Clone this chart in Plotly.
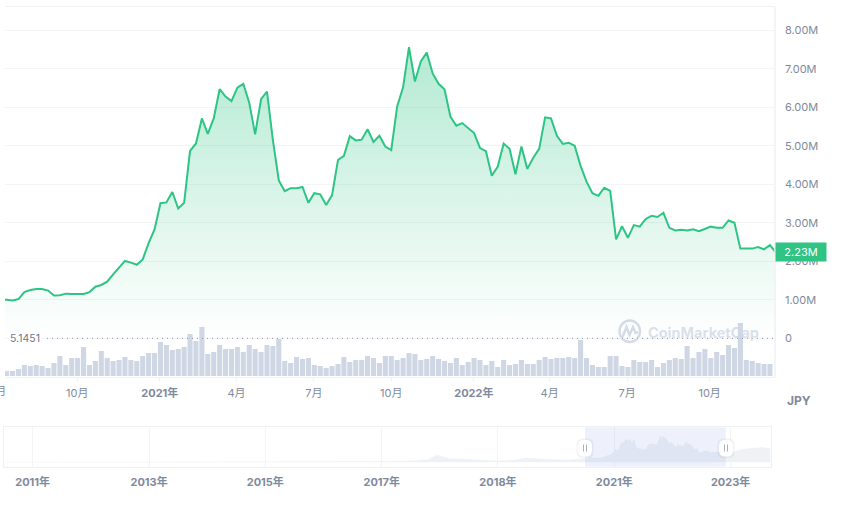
import pandas as pd
import plotly.graph_objects as go

W, H = 852, 509
GRAY = "#808A9D"
GRID = "#F3F4F7"
EDGE = "#EFF2F5"
GREEN = "#2DC484"
FONT = "Inter, 'Noto Sans CJK JP', sans-serif"

# Weekly-ish price in millions of JPY
price = [
    1.00, 1.00, 0.98, 1.02, 1.20, 1.255, 1.28, 1.28, 1.24, 1.11, 1.12, 1.16, 1.15, 1.15, 1.15, 1.20,
    1.34, 1.385, 1.47, 1.66, 1.84, 2.01, 1.965, 1.91, 2.05, 2.47, 2.83, 3.51, 3.53, 3.80, 3.37, 3.52,
    4.87, 5.06, 5.71, 5.31, 5.71, 6.47, 6.28, 6.16, 6.51, 6.61, 6.12, 5.30, 6.21, 6.41, 5.15, 4.10,
    3.82, 3.90, 3.90, 3.93, 3.52, 3.77, 3.74, 3.46, 3.72, 4.63, 4.74, 5.25, 5.14, 5.16, 5.43, 5.10,
    5.26, 4.98, 4.89, 6.02, 6.52, 7.56, 6.67, 7.19,
    7.42, 6.88, 6.61, 6.47, 5.76, 5.52, 5.59, 5.46, 5.33, 4.94, 4.86, 4.22, 4.46, 5.06, 4.92, 4.26,
    4.98, 4.40, 4.69, 4.92, 5.74, 5.71, 5.26, 5.05, 5.08, 5.00, 4.48, 4.07, 3.77, 3.70, 3.91, 3.83,
    2.57, 2.91, 2.61, 2.94, 2.90, 3.10, 3.18, 3.15, 3.26, 2.87, 2.80, 2.82, 2.80, 2.83, 2.78, 2.84,
    2.90, 2.87, 2.87, 3.06, 3.00, 2.33, 2.33, 2.33, 2.37, 2.31, 2.42, 2.23,
]
# Trading volume, arbitrary units (scale not shown in the reference)
volume = [
    1.5, 1.5, 2.1, 3.3, 3.0, 3.3, 3.0, 2.4, 3.9, 6.0, 3.3, 5.4, 5.4, 8.7, 3.3, 4.5, 7.5, 5.4, 4.5, 4.8,
    5.7, 4.8, 4.5, 6.0, 6.9, 6.9, 10.2, 9.3, 7.8, 8.1, 8.7, 12.6, 10.5, 14.7, 6.6, 7.2, 9.3, 8.1, 8.1, 8.7,
    7.2, 9.3, 8.1, 7.2, 9.3, 9.0, 11.1, 4.5, 3.9, 5.7, 5.1, 5.4, 3.3, 3.0, 2.4, 3.0, 3.6, 5.7, 4.2, 4.8,
    4.8, 6.0, 5.4, 3.9, 6.0, 6.0, 4.8, 5.4, 6.9, 6.6, 4.8,
    5.1, 6.0, 5.1, 4.5, 3.9, 5.4, 3.3, 4.2, 5.4, 4.8, 3.3, 4.5, 2.7, 4.8, 3.3, 3.6, 4.8, 3.6, 3.6, 4.8,
    5.7, 5.1, 5.4, 5.4, 5.7, 5.4, 10.8, 5.4, 3.3, 2.7, 2.7, 6.0, 6.0, 3.0, 2.7, 4.8, 4.2, 4.2, 4.8, 2.7,
    3.9, 4.8, 5.4, 5.1, 9.0, 5.4, 7.2, 8.1, 5.4, 7.2, 6.3, 9.3, 8.4, 15.9, 4.8, 4.5, 3.9, 3.6, 3.6,
]
dates = pd.date_range("2020-06-30", "2022-12-18", periods=len(price))

# Overview history outside the zoomed window
hist_dates = ["2010-07-05", "2013-10-01", "2013-12-01", "2015-01-01", "2016-01-01", "2016-12-01", "2017-03-01",
              "2017-05-15", "2017-08-15", "2017-10-15", "2017-12-15", "2018-01-20", "2018-03-01", "2018-05-01",
              "2018-08-01", "2018-11-01", "2019-01-01", "2019-04-01", "2019-07-01", "2019-10-01", "2020-01-01",
              "2020-03-15", "2020-06-15"]
hist_price = [0.0, 0.02, 0.1, 0.04, 0.05, 0.09, 0.13, 0.25, 0.5, 0.7, 2.05, 1.6, 1.0, 0.9, 0.75, 0.55, 0.35,
              0.55, 1.2, 0.95, 0.85, 0.65, 1.0]
recent_dates = ["2023-01-01", "2023-02-01", "2023-03-15", "2023-05-01", "2023-06-20", "2023-07-20", "2023-09-10"]
recent_price = [2.6, 3.1, 3.7, 3.9, 4.15, 4.2, 3.85]

month_ticks = ["2020-09-27", "2021-01-01", "2021-03-31", "2021-06-29", "2021-09-27", "2022-01-01", "2022-03-30",
               "2022-06-28", "2022-10-02"]
month_labels = ["10月", "<b>2021年</b>", "4月", "7月", "10月", "<b>2022年</b>", "4月", "7月", "10月"]
price_ticks = [0, 1, 2, 3, 4, 5, 6, 7, 8]
price_labels = ["0", "1.00M", "2.00M", "3.00M", "4.00M", "5.00M", "6.00M", "7.00M", "8.00M"]
year_ticks = ["2011-01-01", "2013-01-01", "2015-01-01", "2017-01-01", "2019-01-01", "2021-01-01", "2023-01-01"]
year_labels = ["2011年", "2013年", "2015年", "2017年", "2018年", "2021年", "2023年"]


def px(x):
    return x / W


def py(y):
    return 1 - y / H


overview_x = hist_dates + [d.strftime("%Y-%m-%d") for d in dates[2:-1]] + recent_dates
overview_y = hist_price + price[2:-1] + recent_price

fig = go.Figure()
fig.add_trace(go.Scatter(
    x=dates, y=price, mode="lines", yaxis="y", xaxis="x",
    line=dict(color=GREEN, width=2), fill="tozeroy",
    fillgradient=dict(type="vertical", colorscale=[[0, "rgba(45,196,132,0)"], [1, "rgba(45,196,132,0.36)"]]),
    hoverinfo="skip",
))
fig.add_trace(go.Bar(
    x=dates[1:-1], y=volume, yaxis="y2", xaxis="x",
    marker=dict(color="#CFD6E4", line_width=0), hoverinfo="skip",
))
fig.add_trace(go.Scatter(
    x=overview_x, y=overview_y, mode="lines", xaxis="x2", yaxis="y3",
    line=dict(color="#EFF2F5", width=0.5), fill="tozeroy", fillcolor="#EFF2F5", hoverinfo="skip",
))

axis_text = dict(family=FONT, size=11, color=GRAY)
fig.update_layout(
    width=W, height=H, margin=dict(l=0, r=0, t=0, b=0), autosize=False,
    paper_bgcolor="white", plot_bgcolor="white", showlegend=False, bargap=0.14,
    font=dict(family=FONT, color=GRAY),
    xaxis=dict(
        domain=[px(5), px(775)], range=["2020-07-05", "2022-12-17"], anchor="y", type="date",
        tickmode="array", tickvals=month_ticks, ticktext=month_labels, tickangle=0,
        showgrid=False, showline=True, linecolor=EDGE, linewidth=1, mirror=True,
        ticks="outside", ticklen=3, tickcolor=EDGE, tickfont=axis_text, ticklabelstandoff=3,
        zeroline=False,
    ),
    yaxis=dict(
        domain=[py(377), py(7)], range=[-1.005, 8.605], side="right", anchor="x",
        tickmode="array", tickvals=price_ticks, ticktext=price_labels, tickfont=axis_text,
        showgrid=True, gridcolor=GRID, gridwidth=1, zeroline=False, showline=False,
        ticks="", ticklabelstandoff=9,
    ),
    yaxis2=dict(overlaying="y", range=[-0.3, 110.7], visible=False, fixedrange=True),
    xaxis2=dict(
        domain=[px(4), px(770.7)], range=["2010-07-05", "2023-09-10"], anchor="y3", type="date",
        tickmode="array", tickvals=year_ticks, ticktext=[f"<b>{t}</b>" for t in year_labels], tickangle=0,
        tickfont=axis_text, ticks="", ticklabelstandoff=5,
        showgrid=True, gridcolor=GRID, gridwidth=1, showline=True, linecolor=EDGE, mirror=True, zeroline=False,
    ),
    yaxis3=dict(
        domain=[py(466.7), py(427.3)], range=[-1.28, 9.98], anchor="x2",
        showticklabels=False, showgrid=False, zeroline=False, showline=True, linecolor=EDGE, mirror=True, ticks="",
    ),
)

shapes = [
    # dotted reference line at the chart's open price
    dict(type="line", xref="paper", yref="y", x0=px(47), x1=px(775), y0=0, y1=0,
         line=dict(color="#8A93A6", width=1, dash="1px,4px"), layer="above"),
    # right edge of the main plot is heavier than the others
    dict(type="line", xref="paper", yref="paper", x0=px(775), x1=px(775), y0=py(377), y1=py(7),
         line=dict(color=EDGE, width=1.6), layer="above"),
    # watermark logo
    dict(type="circle", xref="paper", yref="paper", x0=px(619.5), x1=px(640), y0=py(342), y1=py(320.5),
         line=dict(color="#D5DCE8", width=2.4), layer="below"),
    dict(type="path", xref="paper", yref="paper", layer="below",
         path=f"M {px(622.5)} {py(337)} L {px(626.5)} {py(327)} L {px(629.5)} {py(335)} L {px(633)} {py(327)} "
              f"L {px(635.5)} {py(333)} L {px(638)} {py(332)}",
         line=dict(color="#D5DCE8", width=2.4), fillcolor="rgba(0,0,0,0)"),
    # selected window in the overview
    dict(type="rect", xref="paper", yref="paper", x0=px(585), x1=px(725.7), y0=py(466.7), y1=py(427.3),
         fillcolor="rgba(88,116,224,0.10)", line_width=0, layer="above"),
]
for cx in (585, 726):
    # soft halo and rounded white handle
    for pad, col in ((1.5, "rgba(128,138,157,0.10)"), (0, "white")):
        x0, x1, y0, y1, r = cx - 7 - pad, cx + 7 + pad, 440 - pad, 456.5 + pad, 6
        shapes.append(dict(
            type="path", xref="paper", yref="paper", layer="above", fillcolor=col, line_width=0,
            path=(f"M {px(x0 + r)} {py(y0)} L {px(x1 - r)} {py(y0)} Q {px(x1)} {py(y0)} {px(x1)} {py(y0 + r)} "
                  f"L {px(x1)} {py(y1 - r)} Q {px(x1)} {py(y1)} {px(x1 - r)} {py(y1)} L {px(x0 + r)} {py(y1)} "
                  f"Q {px(x0)} {py(y1)} {px(x0)} {py(y1 - r)} L {px(x0)} {py(y0 + r)} Q {px(x0)} {py(y0)} {px(x0 + r)} {py(y0)} Z"),
        ))
    for dx in (-1.5, 1.5):
        shapes.append(dict(type="line", xref="paper", yref="paper", x0=px(cx + dx), x1=px(cx + dx), y0=py(444.5), y1=py(451.5),
                           line=dict(color="#A6B0C3", width=1), layer="above"))
fig.update_layout(shapes=shapes)

fig.update_layout(annotations=[
    dict(xref="paper", yref="y", x=px(775), y=2.25, text="2.23M", showarrow=False, xanchor="left", yanchor="middle",
         width=50, height=18, align="center", bgcolor="#2FC384", borderpad=0,
         font=dict(family=FONT, size=11, color="white")),
    dict(xref="paper", yref="y", x=px(9), y=0, text="5.1451", showarrow=False, xanchor="left", yanchor="middle",
         font=dict(family=FONT, size=10.5, color="#6B778C"), bgcolor="white", borderpad=0),
    dict(xref="paper", yref="paper", x=px(8), y=py(391), text="7月", showarrow=False, xanchor="right", yanchor="middle",
         font=axis_text),
    dict(xref="paper", yref="paper", x=px(799), y=py(400), text="<b>JPY</b>", showarrow=False, xanchor="center",
         yanchor="middle", font=dict(family=FONT, size=12, color=GRAY)),
    dict(xref="paper", yref="paper", x=px(703.5), y=py(332), text="<b>CoinMarketCap</b>", showarrow=False,
         xanchor="center", yanchor="middle",
         font=dict(family=FONT, size=14.5, color="rgba(207,214,228,0.75)")),
])

fig.write_html("out.html", post_script="document.body.style.margin='0';", config={"displayModeBar": False})
